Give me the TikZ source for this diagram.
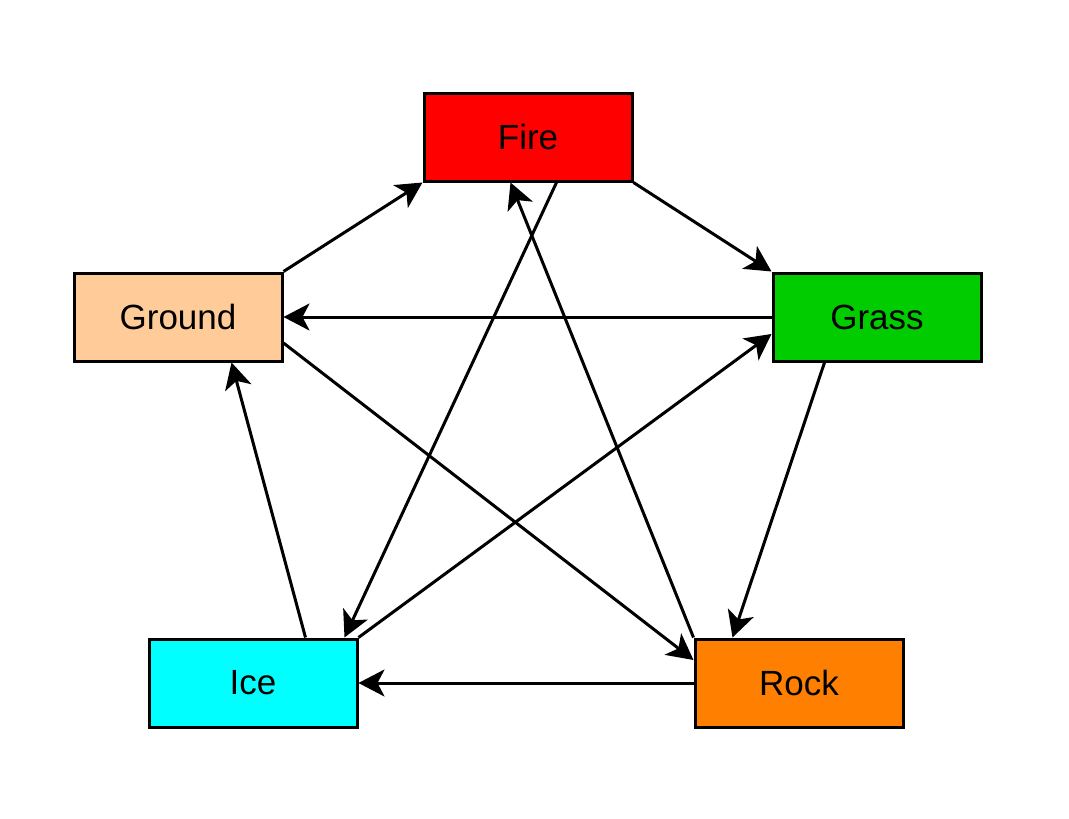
\documentclass[tikz,border=0pt]{standalone}
\usepackage{fontspec}
\setmainfont{Liberation Sans}
\usetikzlibrary{arrows.meta,calc}
\definecolor{fireC}{HTML}{FF0000}
\definecolor{groundC}{HTML}{FFCC99}
\definecolor{grassC}{HTML}{00CC00}
\definecolor{iceC}{HTML}{00FFFF}
\definecolor{rockC}{HTML}{FF8000}
\tikzset{
  typebox/.style={draw=black, line width=3pt, minimum width=208pt, minimum height=88pt, inner sep=0pt, font=\fontsize{35}{40}\selectfont},
  conn/.style={line width=3pt, -{Stealth[length=26pt,width=27pt,inset=7pt]}}
}
\begin{document}
\begin{tikzpicture}[x=1pt,y=-1pt]
\useasboundingbox (0,0) rectangle (1069,819);
\node[typebox, fill=fireC]   (fire)   at (528,137) {Fire};
\node[typebox, fill=groundC] (ground) at (178,317) {Ground};
\node[typebox, fill=grassC]  (grass)  at (877,317) {Grass};
\node[typebox, fill=iceC]    (ice)    at (253,683) {Ice};
\node[typebox, fill=rockC]   (rock)   at (799,683) {Rock};

\draw[conn] (ground.north east) -- (fire.south west);
\draw[conn] (fire.south east) -- (grass.north west);
\draw[conn] (grass.west) -- (ground.east);
\draw[conn] ($(grass.south west)+(53,0)$) -- ($(rock.north west)+(39,0)$);
\draw[conn] (rock.west) -- (ice.east);
\draw[conn] ($(ice.north west)+(158,0)$) -- ($(ground.south west)+(159,0)$);
\draw[conn] ($(fire.south west)+(134,0)$) -- ($(ice.north west)+(197,0)$);
\draw[conn] (rock.north west) -- ($(fire.south west)+(88,0)$);
\draw[conn] ($(ground.east)+(0,26)$) -- ($(rock.west)+(0,-23)$);
\draw[conn] (ice.north east) -- ($(grass.west)+(0,17)$);
\end{tikzpicture}
\end{document}
